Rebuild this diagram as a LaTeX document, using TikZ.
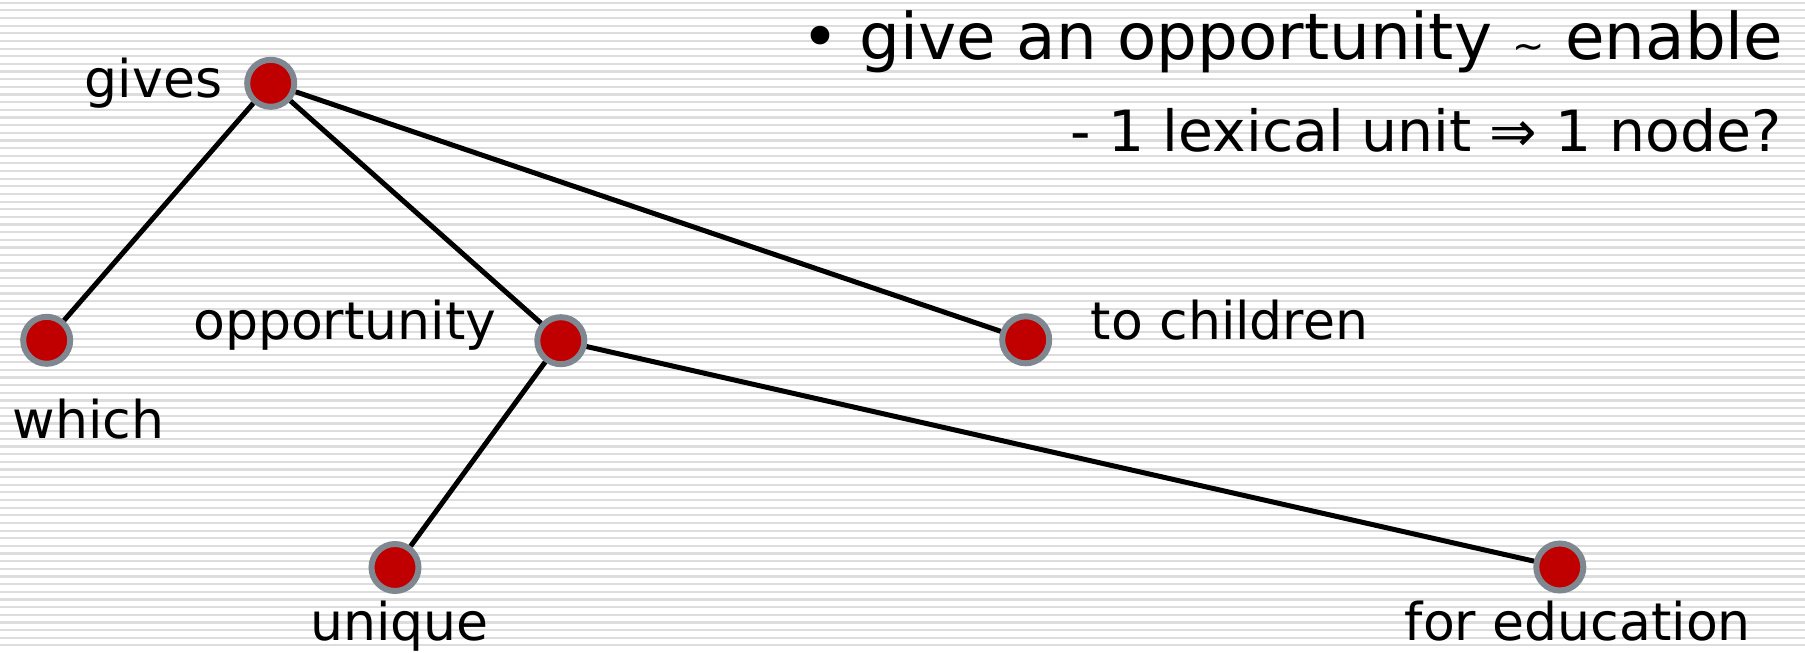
\documentclass[tikz,border=0pt]{standalone}
\usepackage{fontspec}
\setmainfont{DejaVu Sans}
\definecolor{nodered}{HTML}{C00000}
\definecolor{nodegray}{HTML}{7F8790}
\definecolor{stripe}{HTML}{DDDDDD}
\begin{document}
\begin{tikzpicture}[lbl/.style={inner sep=0pt,font=\fontsize{14.8}{18}\selectfont},
  wnode/.style={circle,draw=nodegray,fill=nodered,line width=.6mm,minimum size=4.7mm,inner sep=0pt},
  link/.style={line width=.5mm}]
\useasboundingbox (0,0) rectangle (18.05,6.52);
% striped background
\foreach \i in {0,...,84} \fill[stripe] (0,6.493-.0765*\i-.011) rectangle (18.05,6.493-.0765*\i+.011);
\node[wnode] (gives) at (2.707,5.687) {};
\node[wnode] (which) at (0.467,3.117) {};
\node[wnode] (opp) at (5.608,3.113) {};
\node[wnode] (child) at (10.257,3.122) {};
\node[wnode] (unique) at (3.95,0.845) {};
\node[wnode] (edu) at (15.598,0.85) {};
\draw[link] (gives)--(which);\draw[link] (gives)--(opp);\draw[link] (gives)--(child);
\draw[link] (opp)--(unique);\draw[link] (opp)--(edu);
\node[lbl,anchor=base east] (lgives) at (2.23,5.54) {gives};
\node[lbl,anchor=base] (lwhich) at (0.885,2.14) {which};
\node[lbl,anchor=base east] (lopp) at (4.97,3.13) {opportunity};
\node[lbl,anchor=base west] (lchild) at (10.90,3.13) {to children};
\node[lbl,anchor=base] (luniq) at (3.995,0.12) {unique};
\node[lbl,anchor=base west] (ledu) at (14.04,0.12) {for education};
\node[lbl,anchor=base east,font=\fontsize{18.3}{20}\selectfont] (head) at (17.84,5.92) {• give an opportunity {\fontsize{11}{11}\selectfont∼} enable};
\node[lbl,anchor=base east,font=\fontsize{16.15}{18}\selectfont] (sub) at (17.82,5.0) {- 1 lexical unit ⇒ 1 node?};
\end{tikzpicture}
\end{document}
